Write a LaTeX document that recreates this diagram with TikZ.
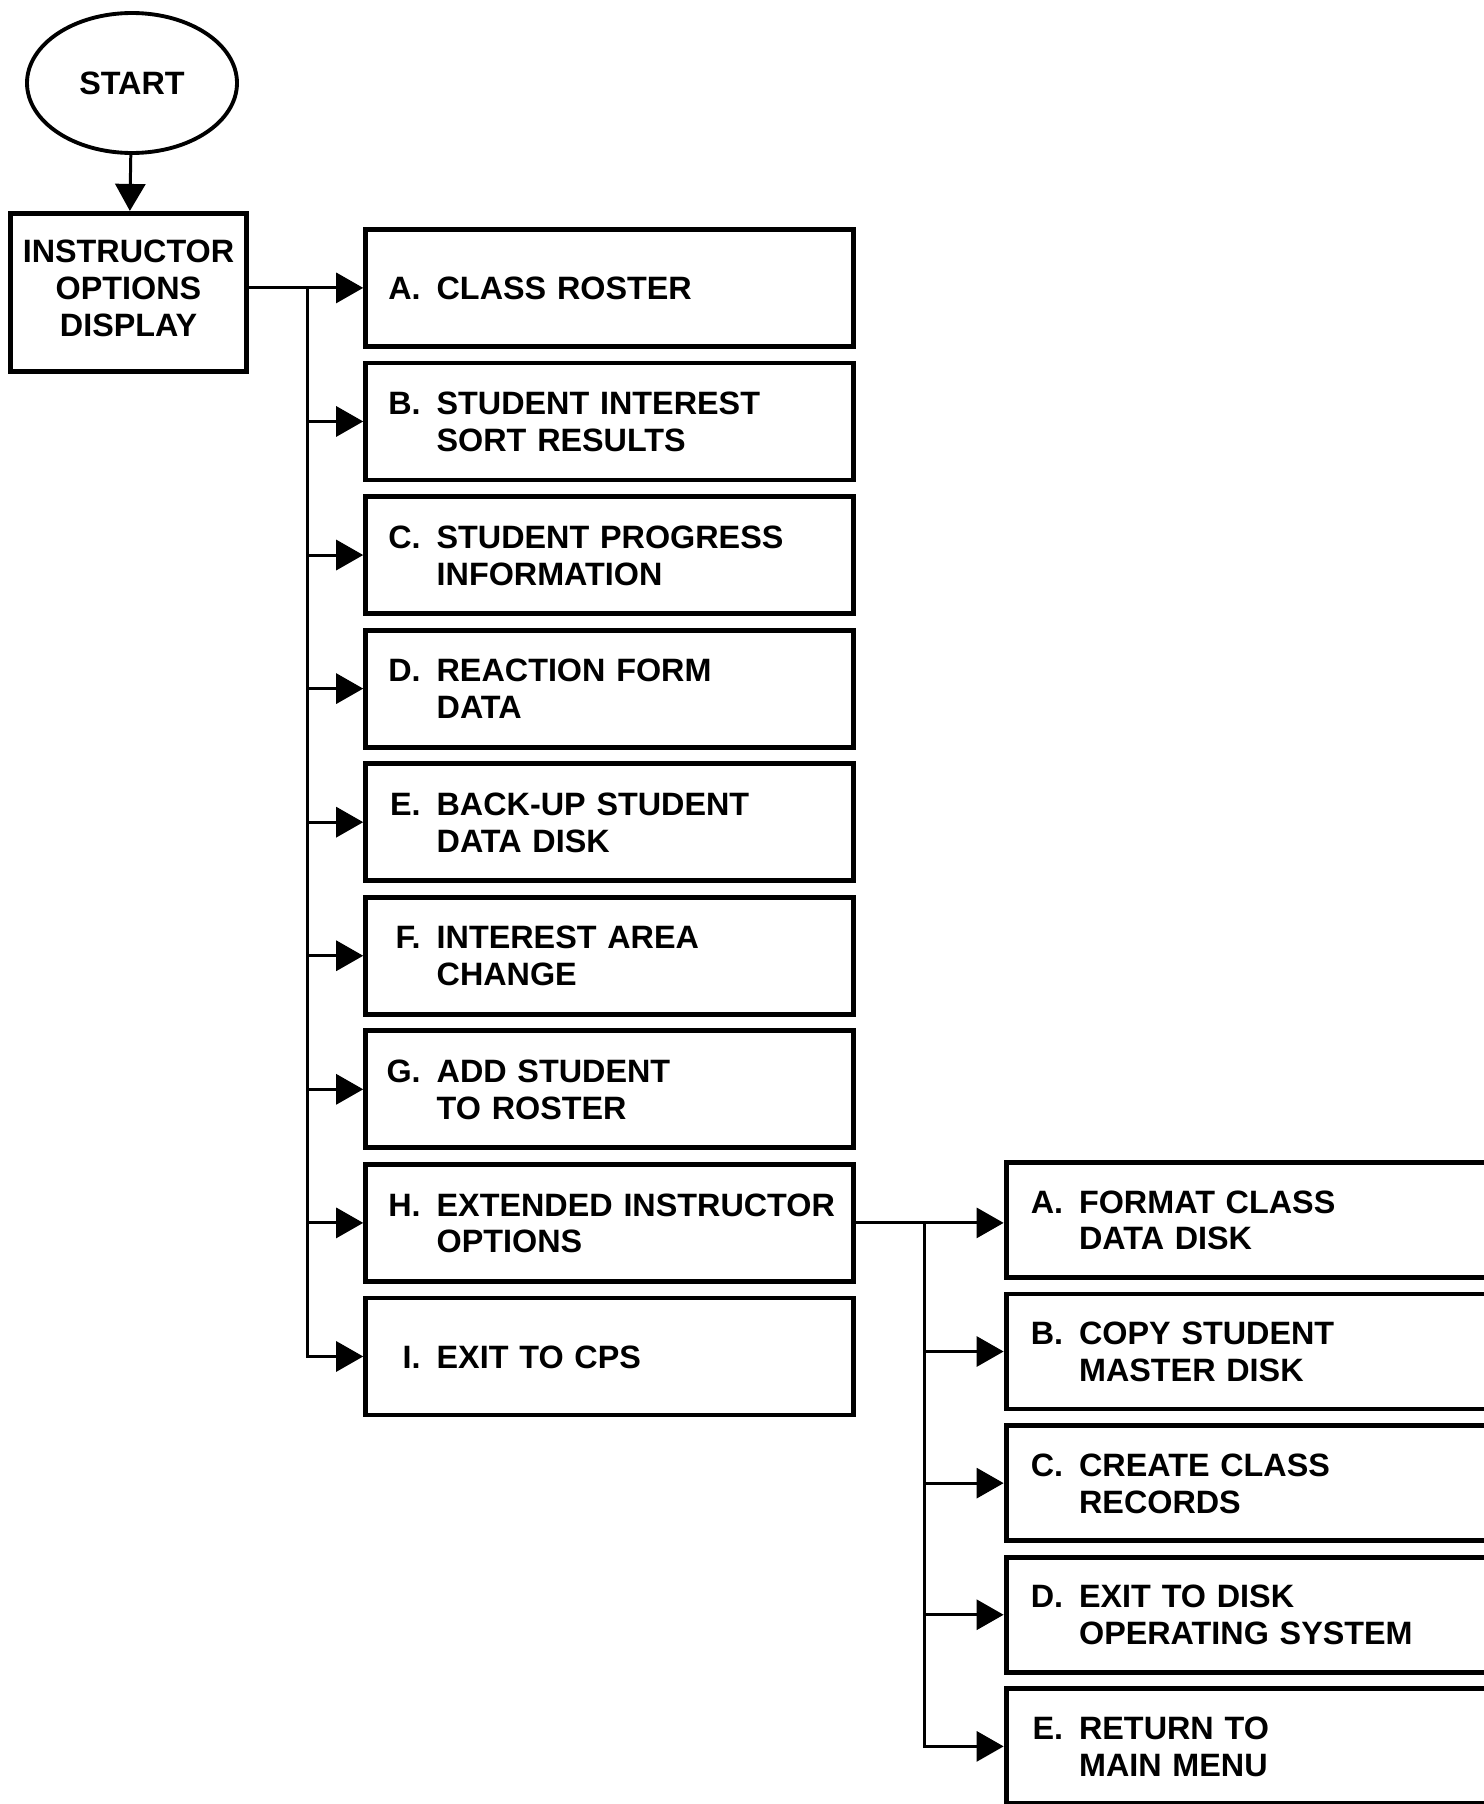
\documentclass[tikz,border=0pt]{standalone}
\usepackage{fontspec}
\setmainfont{Liberation Sans}
\usetikzlibrary{positioning,arrows.meta,shapes.geometric,calc}
\tikzset{
  menutext/.style={font=\bfseries\fontsize{18.4}{21}\selectfont},
  term/.style    ={ellipse,draw,line width=2.2pt,minimum width=4.2cm,minimum height=2.8cm,
                   inner sep=0pt,menutext},
  display/.style ={rectangle,draw,line width=2.8pt,minimum width=4.73cm,minimum height=3.16cm,
                   text width=4.5cm,inner sep=2pt,align=center,menutext},
  optbox/.style  ={rectangle,draw,line width=2.8pt,text width=8.67cm,inner xsep=0.54cm,
                   minimum height=2.34cm,align=left,menutext},
  subbox/.style  ={optbox,text width=9.5cm,inner xsep=0.58cm,minimum height=2.3cm},
  flow/.style    ={-{Triangle[length=0.54cm,width=0.6cm]},line width=1.7pt},
}
\newcommand{\opt}[2]{\raisebox{0pt}[\height][\dimexpr\depth-4.8pt\relax]{\makebox[0.56cm][r]{#1}\hspace{0.32cm}\begin{tabular}[t]{@{}l@{}}#2\end{tabular}}}

\begin{document}
\begin{tikzpicture}[node distance=0.233cm]
  \useasboundingbox (0,0) rectangle (29.68,-36.08);
  \clip (0,0) rectangle (29.68,-36.08);
  \node[term] (start) at (2.64,-1.66) {START};
  \node[display,below=1.12cm of start,xshift=-0.07cm] (instr) {INSTRUCTOR\\OPTIONS\\DISPLAY\rule[-5.2pt]{0pt}{0pt}};
  % main options
  \node[optbox,right=2.28cm of instr,yshift=0.09cm] (roster) {\opt{A.}{CLASS ROSTER}};
  \node[optbox,below=of roster] (interest) {\opt{B.}{STUDENT INTEREST\\SORT RESULTS}};
  \node[optbox,below=of interest] (progress) {\opt{C.}{STUDENT PROGRESS\\INFORMATION}};
  \node[optbox,below=of progress] (reaction) {\opt{D.}{REACTION FORM\\DATA}};
  \node[optbox,below=of reaction] (backup) {\opt{E.}{BACK-UP STUDENT\\DATA DISK}};
  \node[optbox,below=of backup] (area) {\opt{F.}{INTEREST AREA\\CHANGE}};
  \node[optbox,below=of area] (addstu) {\opt{G.}{ADD STUDENT\\TO ROSTER}};
  \node[optbox,below=of addstu] (extended) {\opt{H.}{EXTENDED INSTRUCTOR\\OPTIONS}};
  \node[optbox,below=of extended] (exitcps) {\opt{I.}{EXIT TO CPS}};
  % extended options
  \node[subbox,right=2.96cm of extended,yshift=0.06cm] (format) {\opt{A.}{FORMAT CLASS\\DATA DISK}};
  \node[subbox,below=0.234cm of format] (copymaster) {\opt{B.}{COPY STUDENT\\MASTER DISK}};
  \node[subbox,below=0.234cm of copymaster] (records) {\opt{C.}{CREATE CLASS\\RECORDS}};
  \node[subbox,below=0.234cm of records] (exitdos) {\opt{D.}{EXIT TO DISK\\OPERATING SYSTEM}};
  \node[subbox,below=0.234cm of exitdos] (mainmenu) {\opt{E.}{RETURN TO\\MAIN MENU}};

  \coordinate (fork) at ($(instr.east)+(1.16cm,0)$);
  \coordinate (subfork) at ($(extended.east)+(1.38cm,0)$);

  \draw[flow] (start) -- (instr);
  \draw[flow] (instr.east |- roster.west) -- (roster.west);
  \draw[flow] (fork |- roster.west) |- (exitcps.west);
  \draw[flow] (fork |- interest.west) -- (interest.west);
  \draw[flow] (fork |- progress.west) -- (progress.west);
  \draw[flow] (fork |- reaction.west) -- (reaction.west);
  \draw[flow] (fork |- backup.west) -- (backup.west);
  \draw[flow] (fork |- area.west) -- (area.west);
  \draw[flow] (fork |- addstu.west) -- (addstu.west);
  \draw[flow] (fork |- extended.west) -- (extended.west);

  \draw[flow] (extended.east) -- (extended.east -| format.west);
  \draw[flow] (subfork) |- (mainmenu.west);
  \draw[flow] (subfork |- copymaster.west) -- (copymaster.west);
  \draw[flow] (subfork |- records.west) -- (records.west);
  \draw[flow] (subfork |- exitdos.west) -- (exitdos.west);
\end{tikzpicture}
\end{document}
